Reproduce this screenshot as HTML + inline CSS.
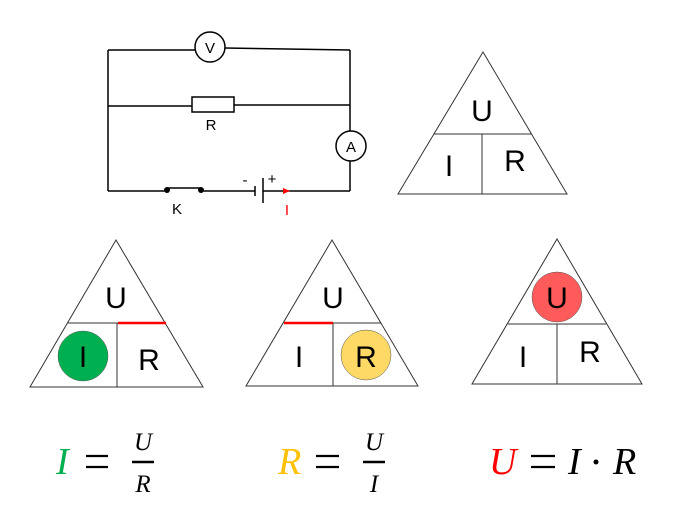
<!DOCTYPE html>
<html><head><meta charset="utf-8"><style>
html,body{margin:0;padding:0;background:#fff;}
svg{display:block;}
.s{font-family:"Liberation Sans",sans-serif;}
.m{font-family:"Liberation Serif",serif;font-style:italic;}
</style></head><body>
<svg width="680" height="524" viewBox="0 0 680 524" xmlns="http://www.w3.org/2000/svg">
<g stroke="#000" stroke-width="1.5" fill="none">
<line x1="108" y1="50" x2="195" y2="50"/><line x1="225" y1="48" x2="350" y2="50"/>
<line x1="108" y1="50" x2="108" y2="191"/>
<line x1="350" y1="50" x2="350" y2="131"/><line x1="350" y1="161" x2="350" y2="191"/>
<line x1="108" y1="106" x2="192" y2="106"/><line x1="234" y1="105" x2="350" y2="105"/>
<rect x="192" y="97" width="42" height="15" fill="#fff"/>
<circle cx="210" cy="47" r="15" fill="#fff"/>
<circle cx="351" cy="146" r="15" fill="#fff"/>
<line x1="108" y1="191" x2="167" y2="191"/>
<line x1="167" y1="188" x2="201" y2="188"/>
<line x1="201" y1="191" x2="255" y2="191"/>
<line x1="255" y1="186" x2="255" y2="196"/>
<line x1="263" y1="178" x2="263" y2="203"/>
<line x1="263" y1="191" x2="350" y2="191"/>
</g>
<circle cx="167" cy="190" r="3" fill="#000"/><circle cx="201" cy="190" r="3" fill="#000"/>
<polygon points="283,188 290,191 283,194" fill="#f00"/>
<g class="s" font-size="15" text-anchor="middle">
<text x="210" y="53">V</text><text x="351" y="152">A</text>
<text x="211" y="130">R</text><text x="177" y="214">K</text>
<text x="245" y="185">-</text><text x="272" y="184">+</text>
<text x="287" y="215" fill="#f00">I</text>
</g>
<g stroke="#333" stroke-width="1" fill="none">
<polygon points="483,52 398,194 567,194"/>
<line x1="434" y1="134" x2="532" y2="134"/><line x1="482" y1="134" x2="482" y2="194"/>
<polygon points="116,240 30,387 203,387"/>
<line x1="68" y1="323" x2="166" y2="323"/><line x1="117" y1="323" x2="117" y2="387"/>
<polygon points="332,240 246,386 418,386"/>
<line x1="284" y1="323" x2="381" y2="323"/><line x1="333" y1="323" x2="333" y2="386"/>
<polygon points="557,239 472,384 642,384"/>
<line x1="508" y1="324" x2="606" y2="324"/><line x1="557" y1="324" x2="557" y2="384"/>
</g>
<line x1="118" y1="323" x2="166" y2="323" stroke="#f00" stroke-width="2.5"/>
<line x1="284" y1="323" x2="333" y2="323" stroke="#f00" stroke-width="2.5"/>
<circle cx="83" cy="356" r="25" fill="#00b050" stroke="#555" stroke-width="0.5"/>
<circle cx="366" cy="355" r="25" fill="#ffd966" stroke="#555" stroke-width="0.5"/>
<circle cx="557" cy="297" r="25" fill="#ff5b5b" stroke="#555" stroke-width="0.5"/>
<g class="s" font-size="30" text-anchor="middle">
<text x="482" y="121">U</text><text x="449" y="176">I</text><text x="515" y="171">R</text>
<text x="116" y="308">U</text><text x="83" y="367">I</text><text x="149" y="370">R</text>
<text x="333" y="308">U</text><text x="299" y="367">I</text><text x="366" y="367">R</text>
<text x="557" y="308">U</text><text x="523" y="367">I</text><text x="590" y="362">R</text>
</g>
<g class="m" font-size="38">
<text x="56" y="474" fill="#00b050">I</text>
<text x="278" y="474" fill="#ffc000">R</text>
<text x="489" y="474" fill="#f00">U</text>
<text x="568" y="474">I</text>
<text x="613" y="474">R</text>
</g>
<g stroke="#000" stroke-width="2.2">
<line x1="86" y1="456" x2="108" y2="456"/><line x1="86" y1="467" x2="108" y2="467"/>
<line x1="316" y1="456" x2="339" y2="456"/><line x1="316" y1="467" x2="339" y2="467"/>
<line x1="531" y1="456" x2="555" y2="456"/><line x1="531" y1="467" x2="555" y2="467"/>
</g>
<circle cx="596" cy="462" r="2.5" fill="#000"/>
<g class="m" font-size="25" text-anchor="middle">
<text x="143" y="450">U</text><text x="143" y="492">R</text>
<text x="374" y="450">U</text><text x="374" y="492">I</text>
</g>
<line x1="132" y1="462" x2="154" y2="462" stroke="#000" stroke-width="2.5"/>
<line x1="363" y1="462" x2="385" y2="462" stroke="#000" stroke-width="2.5"/>
</svg>
</body></html>
